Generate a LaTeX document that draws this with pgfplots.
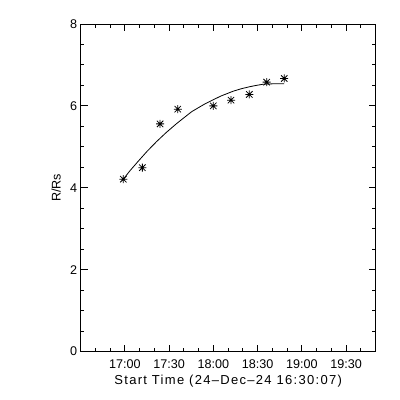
\documentclass[border=0pt]{standalone}
\usepackage{fontspec}
\setmainfont{Liberation Sans}
\newfontfamily\labfont[LetterSpace=10]{Liberation Sans}
\usepackage{pgfplots}
\pgfplotsset{compat=1.18}
\pgfdeclareplotmark{ast8}{%
  \pgfpathmoveto{\pgfqpoint{-\pgfplotmarksize}{0pt}}\pgfpathlineto{\pgfqpoint{\pgfplotmarksize}{0pt}}%
  \pgfpathmoveto{\pgfqpoint{0pt}{-\pgfplotmarksize}}\pgfpathlineto{\pgfqpoint{0pt}{\pgfplotmarksize}}%
  \pgfpathmoveto{\pgfqpoint{-0.8\pgfplotmarksize}{-0.8\pgfplotmarksize}}\pgfpathlineto{\pgfqpoint{0.8\pgfplotmarksize}{0.8\pgfplotmarksize}}%
  \pgfpathmoveto{\pgfqpoint{-0.8\pgfplotmarksize}{0.8\pgfplotmarksize}}\pgfpathlineto{\pgfqpoint{0.8\pgfplotmarksize}{-0.8\pgfplotmarksize}}%
  \pgfusepathqstroke}
\begin{document}
\begin{tikzpicture}
\useasboundingbox (-80.7pt,-48.5pt) rectangle (319.3pt,351.5pt);
\fill[white] (-80.7pt,-48.5pt) rectangle (319.3pt,351.5pt);
\begin{axis}[
  scale only axis, width=295pt, height=327.5pt,
  xmin=0, xmax=200, ymin=0, ymax=8,
  axis line style={line width=0.9pt},
  every tick/.style={line width=0.9pt, black},
  major tick length=7pt, minor tick length=3.5pt,
  xtick={29.883,59.883,89.883,119.883,149.883,179.883},
  xticklabels={17:00,17:30,18:00,18:30,19:00,19:30},
  minor xtick={9.883,19.883,39.883,49.883,69.883,79.883,99.883,109.883,129.883,139.883,159.883,169.883,189.883},
  ytick={0,2,4,6,8},
  minor ytick={0.5,1,1.5,2.5,3,3.5,4.5,5,5.5,6.5,7,7.5},
  /pgf/number format/assume math mode=true,
  tick label style={font=\fontsize{12.6}{15}\selectfont},
  xticklabel style={yshift=-5pt},
  xlabel={\labfont\fontsize{13}{15}\selectfont Start Time (24–Dec–24 16:30:07)},
  xlabel style={at={(axis description cs:0.5,0)}, anchor=center, yshift=-29.5pt},
  ylabel={\fontsize{12.6}{15}\selectfont R/Rs},
  ylabel style={at={(axis description cs:-0.0837,0.5)}, anchor=center},
]
\addplot[black, line width=0.8pt, no marks] coordinates {
(28.9,4.21) (33.5,4.42) (39.05,4.65) (45,4.89) (51.5,5.13) (58,5.35) (65.1,5.57) (70,5.71)
(75.3,5.86) (80,5.96) (84.3,6.05) (89.9,6.15) (95,6.24) (103.5,6.36) (109,6.42)
(114.8,6.47) (119,6.50) (123.8,6.53) (131,6.54) (138.0,6.54)};
\addplot[black, only marks, mark=ast8, mark size=4pt, mark options={line width=0.8pt}] coordinates {
(28.9,4.21) (41.8,4.49) (53.8,5.56) (65.8,5.92) (89.9,6.00) (101.9,6.14) (114.3,6.28) (126.1,6.58) (138.0,6.67)};
\end{axis}
\end{tikzpicture}
\end{document}
